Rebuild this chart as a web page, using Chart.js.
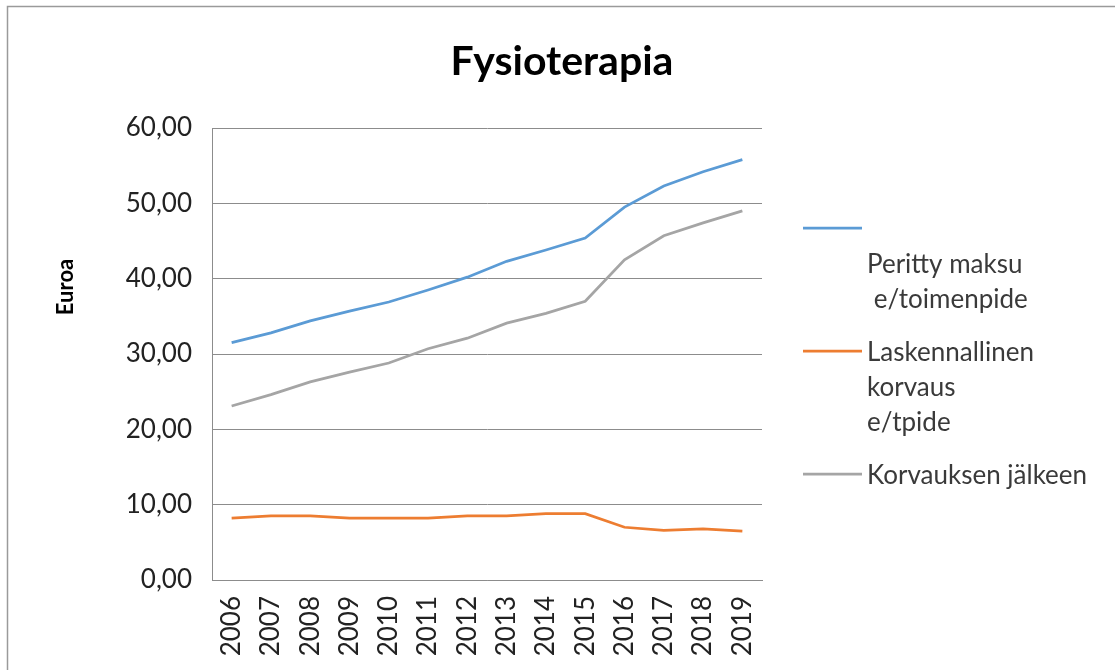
<!DOCTYPE html>
<html>
  <head>
    <meta charset="utf-8" />
    <title>Fysioterapia</title>
    <script src="https://cdn.jsdelivr.net/npm/chart.js"></script>
    <style>
      html, body { margin: 0; padding: 0; background: #fff; }
      #wrap { position: relative; width: 1115px; height: 670px; }
    </style>
  </head>
  <body>
    <div id="wrap">
      <canvas id="fysioChart" width="1115" height="670"></canvas>
    </div>
    <script type="text/javascript">
      // data
      var years = ['2006', '2007', '2008', '2009', '2010', '2011', '2012', '2013', '2014', '2015', '2016', '2017', '2018', '2019']
      var perittyMaksu = [31.5, 32.8, 34.4, 35.7, 36.9, 38.5, 40.2, 42.3, 43.8, 45.4, 49.5, 52.3, 54.2, 55.8]
      var laskennallinenKorvaus = [8.2, 8.5, 8.5, 8.2, 8.2, 8.2, 8.5, 8.5, 8.8, 8.8, 7.0, 6.6, 6.8, 6.5]
      var korvauksenJalkeen = [23.1, 24.6, 26.3, 27.6, 28.8, 30.7, 32.1, 34.1, 35.4, 37.0, 42.5, 45.7, 47.4, 49.0]
      var yTicks = [0, 10, 20, 30, 40, 50, 60]

      var font = 'Lato, "Open Sans", sans-serif'
      var textColor = '#3a3a3a'
      var gridColor = '#8c8c8c'

      // title, axis title, legend and frame drawn by hand
      var decorPlugin = {
        id: 'decor',
        beforeDraw: function(chart) {
          var ctx = chart.ctx
          ctx.save()
          ctx.fillStyle = '#fff'
          ctx.fillRect(0, 0, chart.width, chart.height)
          ctx.strokeStyle = '#9a9a9a'
          ctx.lineWidth = 1.5
          ctx.strokeRect(7.5, 6.5, chart.width + 20, chart.height + 20)
          ctx.restore()
        },
        afterDraw: function(chart) {
          var ctx = chart.ctx
          var area = chart.chartArea
          ctx.save()

          ctx.fillStyle = '#000'
          ctx.font = 'bold 41px ' + font
          ctx.textAlign = 'center'
          ctx.textBaseline = 'alphabetic'
          ctx.fillText('Fysioterapia', 562, 75)

          ctx.save()
          ctx.translate(73, 287)
          ctx.rotate(-Math.PI / 2)
          ctx.font = 'bold 22px ' + font
          ctx.fillText('Euroa', 0, 0)
          ctx.restore()

          ctx.font = '26px ' + font
          ctx.textAlign = 'left'
          ctx.fillStyle = textColor
          var y = 228
          chart.data.datasets.forEach(function(ds) {
            ctx.strokeStyle = ds.borderColor
            ctx.lineWidth = 2.75
            ctx.beginPath()
            ctx.moveTo(area.right + 41, y)
            ctx.lineTo(area.right + 100, y)
            ctx.stroke()
            ds.legendLines.forEach(function(line, i) {
              ctx.fillText(line, area.right + 105, y + 10 + i * 35)
            })
            y += ds.legendLines.length * 35 + 18
          })
          ctx.restore()
        }
      }

      var ctx = document.getElementById('fysioChart').getContext('2d')
      new Chart(ctx, {
        type: 'line',
        data: {
          labels: years,
          datasets: [{
            label: 'Peritty maksu e/toimenpide',
            legendLines: ['', 'Peritty maksu', ' e/toimenpide'],
            data: perittyMaksu,
            borderColor: '#5b9bd5',
          }, {
            label: 'Laskennallinen korvaus e/tpide',
            legendLines: ['Laskennallinen', 'korvaus', 'e/tpide'],
            data: laskennallinenKorvaus,
            borderColor: '#ed7d31',
          }, {
            label: 'Korvauksen jälkeen',
            legendLines: ['Korvauksen jälkeen'],
            data: korvauksenJalkeen,
            borderColor: '#a5a5a5',
          }]
        },
        options: {
          responsive: false,
          animation: false,
          devicePixelRatio: 1,
          layout: { padding: { left: 0, top: 128, right: 353, bottom: 0 } },
          elements: {
            line: { borderWidth: 2.75, tension: 0 },
            point: { radius: 0 }
          },
          plugins: {
            legend: { display: false },
            title: { display: false },
            tooltip: { enabled: false }
          },
          scales: {
            x: {
              offset: true,
              grid: { display: false, drawTicks: false },
              border: { display: true, color: gridColor, width: 1 },
              ticks: {
                minRotation: 90,
                maxRotation: 90,
                padding: 16,
                color: '#222',
                font: { family: font, size: 26 }
              },
              afterFit: function(scale) { scale.height = 90 }
            },
            y: {
              min: 0,
              max: 60,
              afterBuildTicks: function(scale) {
                scale.ticks = yTicks.map(function(v) { return { value: v } })
              },
              grid: { color: gridColor, lineWidth: 1, drawTicks: false },
              border: { display: true, color: gridColor, width: 1 },
              ticks: {
                padding: 20,
                color: '#222',
                font: { family: font, size: 26 },
                callback: function(v) { return v.toFixed(2).replace('.', ',') }
              },
              afterFit: function(scale) { scale.width = 212 }
            }
          }
        },
        plugins: [decorPlugin]
      })
    </script>
  </body>
</html>
